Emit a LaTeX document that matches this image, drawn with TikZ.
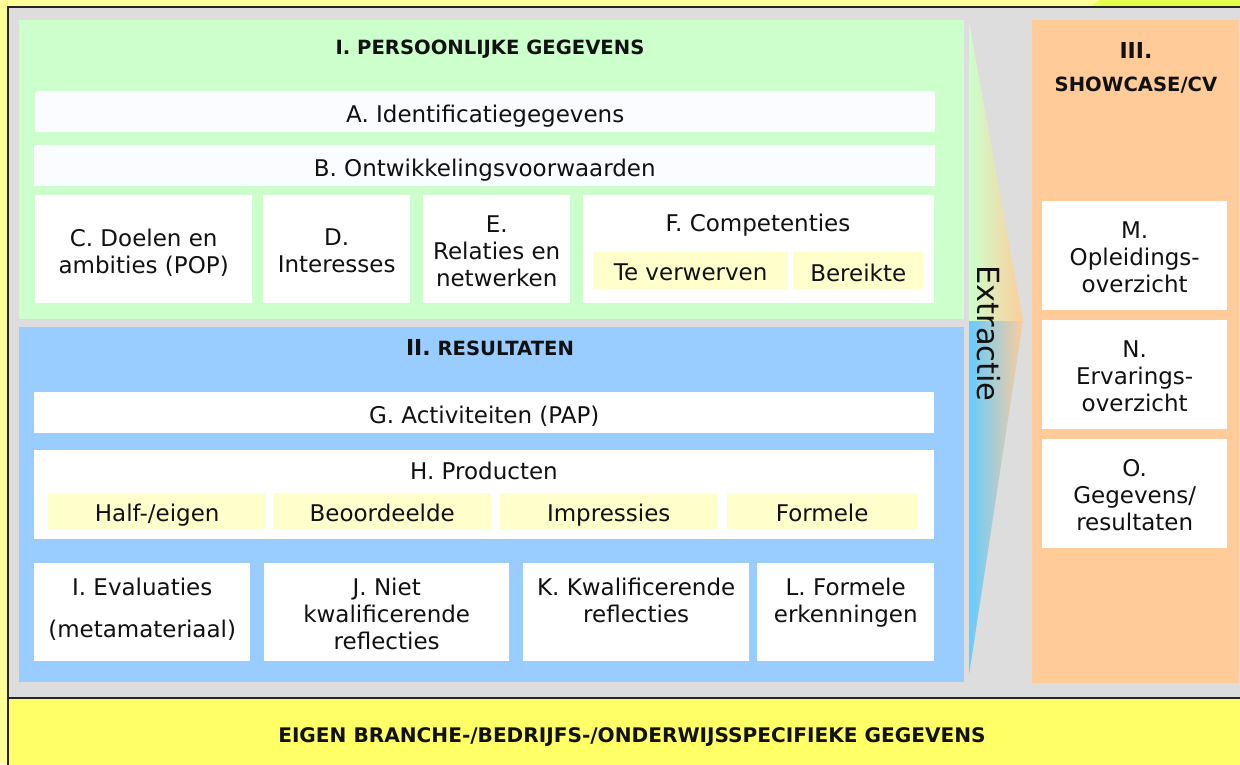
\documentclass[tikz,border=0pt]{standalone}
\usepackage{fontspec}
\setmainfont{DejaVu Sans}
\definecolor{bgyel}{HTML}{FFFF99}
\definecolor{limec}{HTML}{E5FF4D}
\definecolor{frgray}{HTML}{DDDDDD}
\definecolor{pgreen}{HTML}{CCFFCC}
\definecolor{pblue}{HTML}{99CCFF}
\definecolor{porange}{HTML}{FFCC99}
\definecolor{bandyel}{HTML}{FFFF66}
\definecolor{lyel}{HTML}{FFFFCC}
\definecolor{offwhite}{HTML}{FAFCFF}
\definecolor{arrblue}{HTML}{66CCFF}
\definecolor{ink}{HTML}{111111}
\newcommand{\mybignum}{\fontsize{22}{22}\selectfont\bfseries}
% box with centred text: style, name, corner, width, height, text
\newcommand{\mybox}[6]{%
  \node[#1, minimum width=#4pt, minimum height=#5pt] (#2) at #3 {};
  \node[ctxt] (#2t) at ([yshift=-4.5pt]#2.center) {#6};}
\begin{document}
\begin{tikzpicture}[x=1pt,y=-1pt,
  panel/.style={draw=none, inner sep=0pt, anchor=north west},
  wbox/.style={fill=white, draw=none, inner sep=0pt, anchor=north west},
  abox/.style={wbox, fill=offwhite},
  ybox/.style={wbox, fill=lyel},
  txt/.style={inner sep=0pt, align=center, text=ink, font=\fontsize{23}{27}\selectfont},
  ctxt/.style={txt, execute at begin node={\rule{0pt}{16.5pt}},
    execute at end node={\rule[-5.5pt]{0pt}{5.5pt}}},
  ttl/.style={inner sep=0pt, align=center, text=ink, anchor=base,
    font=\fontsize{19.6}{22}\selectfont\bfseries}
]
\useasboundingbox (0,0) rectangle (1240,764);
% background
\fill[bgyel] (0,0) rectangle (1240,764);
\fill[limec] (1100,0) -- (1240,0) -- (1240,8) -- (1088,8) -- cycle;
% outer frame
\fill[frgray] (8,7) rectangle (1245,698);
\fill[bandyel] (8,698) rectangle (1245,770);
\draw[line width=1.8pt, color=black!85] (8,770) -- (8,7) -- (1245,7);
\draw[line width=1.8pt, color=black!85] (8,698) -- (1245,698);

% panels
\node[panel, fill=pgreen, minimum width=945pt, minimum height=299pt] (p1) at (19,20) {};
\node[panel, fill=pblue, minimum width=945pt, minimum height=355pt] (p2) at (19,327) {};
\node[panel, fill=porange, minimum width=207pt, minimum height=663pt] (p3) at (1032,20) {};

% extraction arrow
\begin{scope}
  \clip (969,22) -- (1023,321) -- (969,675) -- cycle;
  \shade[left color=pgreen, right color=porange] (969,20) rectangle (1024,321);
  \shade[left color=arrblue, right color=porange] (969,321) rectangle (1024,677);
\end{scope}
\node[inner sep=0pt, anchor=base west, rotate=-90, text=ink,
  font=\fontsize{30.5}{30.5}\selectfont] (extr) at (977,265) {Extractie};

% titles
\node[ttl] (t1) at (490,54) {I. PERSOONLIJKE GEGEVENS};
\node[ttl] (t2) at (490,355) {{\mybignum II.} RESULTATEN};
\node[ttl] (t3a) at (1136,58) {\mybignum III.};
\node[ttl] (t3b) at (1136,91) {SHOWCASE/CV};
\node[ttl, font=\fontsize{20.1}{22}\selectfont\bfseries] (t4) at (632,742) {EIGEN BRANCHE-/BEDRIJFS-/ONDERWIJSSPECIFIEKE GEGEVENS};

% section I
\mybox{abox}{A}{(35,91)}{900}{41}{A. Identificatiegegevens}
\mybox{abox}{B}{(34,145)}{901}{41}{B. Ontwikkelingsvoorwaarden}
\mybox{wbox}{C}{(35,195)}{217}{108}{C. Doelen en\\ambities (POP)}
\mybox{wbox}{D}{(263,195)}{147}{108}{D.\\Interesses}
\mybox{wbox}{E}{(423,195)}{147}{108}{E.\\Relaties en\\netwerken}
\node[wbox, minimum width=351pt, minimum height=108pt] (F) at (583,195) {};
\node[ctxt] (Ft) at (758,226) {F. Competenties};
\mybox{ybox}{Fa}{(593,252)}{195}{37}{Te verwerven}
\mybox{ybox}{Fb}{(793,252)}{130}{37}{Bereikte}

% section II
\mybox{wbox}{G}{(34,392)}{900}{41}{G. Activiteiten (PAP)}
\node[wbox, minimum width=900pt, minimum height=89pt] (H) at (34,450) {};
\node[ctxt] (Ht) at (484,474) {H. Producten};
\mybox{ybox}{Ha}{(48,493)}{218}{36}{Half-/eigen}
\mybox{ybox}{Hb}{(273,493)}{218}{36}{Beoordeelde}
\mybox{ybox}{Hc}{(500,493)}{217}{36}{Impressies}
\mybox{ybox}{Hd}{(727,493)}{190}{36}{Formele}

\node[wbox, minimum width=216pt, minimum height=98pt] (I) at (34,563) {};
\node[wbox, minimum width=245pt, minimum height=98pt] (J) at (264,563) {};
\node[wbox, minimum width=226pt, minimum height=98pt] (K) at (523,563) {};
\node[wbox, minimum width=177pt, minimum height=98pt] (L) at (757,563) {};
\node[txt, anchor=north] (It) at ([yshift=-14.5pt]I.north) {I. Evaluaties\\[15pt](metamateriaal)};
\node[txt, anchor=north] (Jt) at ([yshift=-15pt]J.north) {J. Niet\\kwalificerende\\reflecties};
\node[txt, anchor=north] (Kt) at ([yshift=-15pt]K.north) {K. Kwalificerende\\reflecties};
\node[txt, anchor=north] (Lt) at ([yshift=-15pt]L.north) {L. Formele\\erkenningen};

% section III
\mybox{wbox}{M}{(1042,201)}{185}{109}{M.\\Opleidings-\\overzicht}
\mybox{wbox}{N}{(1042,320)}{185}{109}{N.\\Ervarings-\\overzicht}
\mybox{wbox}{O}{(1042,439)}{185}{109}{O.\\Gegevens/\\resultaten}
\end{tikzpicture}
\end{document}
